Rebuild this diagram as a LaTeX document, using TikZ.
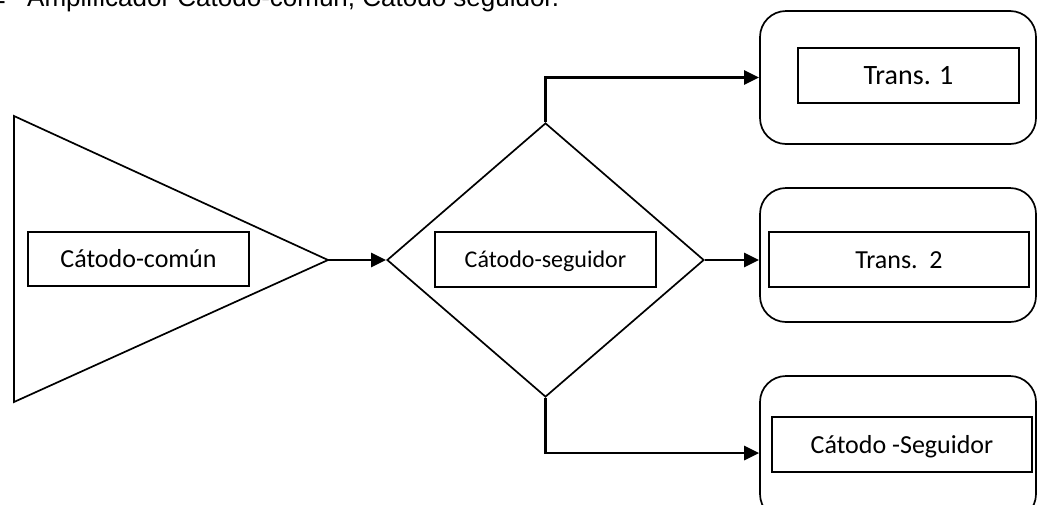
\documentclass[tikz,border=0pt]{standalone}
\usepackage{fontspec}
\setmainfont{Carlito}
\newfontfamily\titlefont{Liberation Sans}
\usetikzlibrary{shapes.geometric,arrows.meta}
\begin{document}
\begin{tikzpicture}[x=1pt,y=-1pt,
  shapeline/.style={draw=black,line width=1.7pt},
  conn/.style={draw=black,line width=2.8pt,-{Triangle[length=15pt,width=14pt]}},
  labelbox/.style={shapeline,rectangle,inner sep=0pt,text height=17pt,text depth=0pt,font=\fontsize{26}{30}\selectfont},
  roundbox/.style={shapeline,rectangle,rounded corners=26pt,inner sep=0pt,minimum width=276pt}
]
\useasboundingbox (0,0) rectangle (1038,504);
\clip (0,0) rectangle (1038,504);
% title
\node[anchor=base west,inner sep=0pt,font=\titlefont\fontsize{26}{30}\selectfont] (dash) at (-3,9) {-};
\node[anchor=base west,inner sep=0pt,font=\titlefont\fontsize{26}{30}\selectfont] (title) at (27,6) {Amplificador Cátodo-común, Cátodo seguidor.};
% triangle
\coordinate (tl) at (14,116);
\coordinate (bl) at (14,402);
\coordinate (tip) at (328,260);
\draw[shapeline,line join=miter] (tl) -- (tip) -- (bl) -- cycle;
\node[labelbox,minimum width=221pt,minimum height=54pt] (cc) at (138.5,259) {Cátodo-común};
% diamond
\node[shapeline,diamond,inner sep=0pt,minimum width=317pt,minimum height=274pt] (dia) at (545.5,260) {};
\node[labelbox,minimum width=221pt,minimum height=55pt,text height=15.5pt,font=\fontsize{24}{28}\selectfont] (cs) at (545.5,259.5) {Cátodo-seguidor};
% rounded boxes
\node[roundbox,minimum height=133pt] (r1) at (898,77.5) {};
\node[roundbox,minimum height=134pt] (r2) at (898,255) {};
\node[roundbox,minimum height=144pt] (r3) at (898,448) {};
\node[labelbox,minimum width=221pt,minimum height=55pt,text height=18pt,font=\fontsize{28}{32}\selectfont] (t1) at (908.5,75.5) {Trans. 1};
\node[labelbox,minimum width=260pt,minimum height=55pt] (t2) at (899,259.5) {Trans.\ \ 2};
\node[labelbox,minimum width=260pt,minimum height=55pt] (t3) at (902,444.5) {Cátodo -Seguidor};
% connectors
\coordinate (up) at (dia.north |- r1.west);
\coordinate (r2in) at (r2.west |- dia.east);
\coordinate (down) at (547,453);
\coordinate (r3in) at (r3.west |- down);
\draw[conn] (tip) -- (dia.west);
\draw[conn] (dia.north) -- (up) -- (r1.west);
\draw[conn] (dia.east) -- (r2in);
\draw[conn] (dia.south) -- (dia.south |- down) -- (r3in);
\end{tikzpicture}
\end{document}
